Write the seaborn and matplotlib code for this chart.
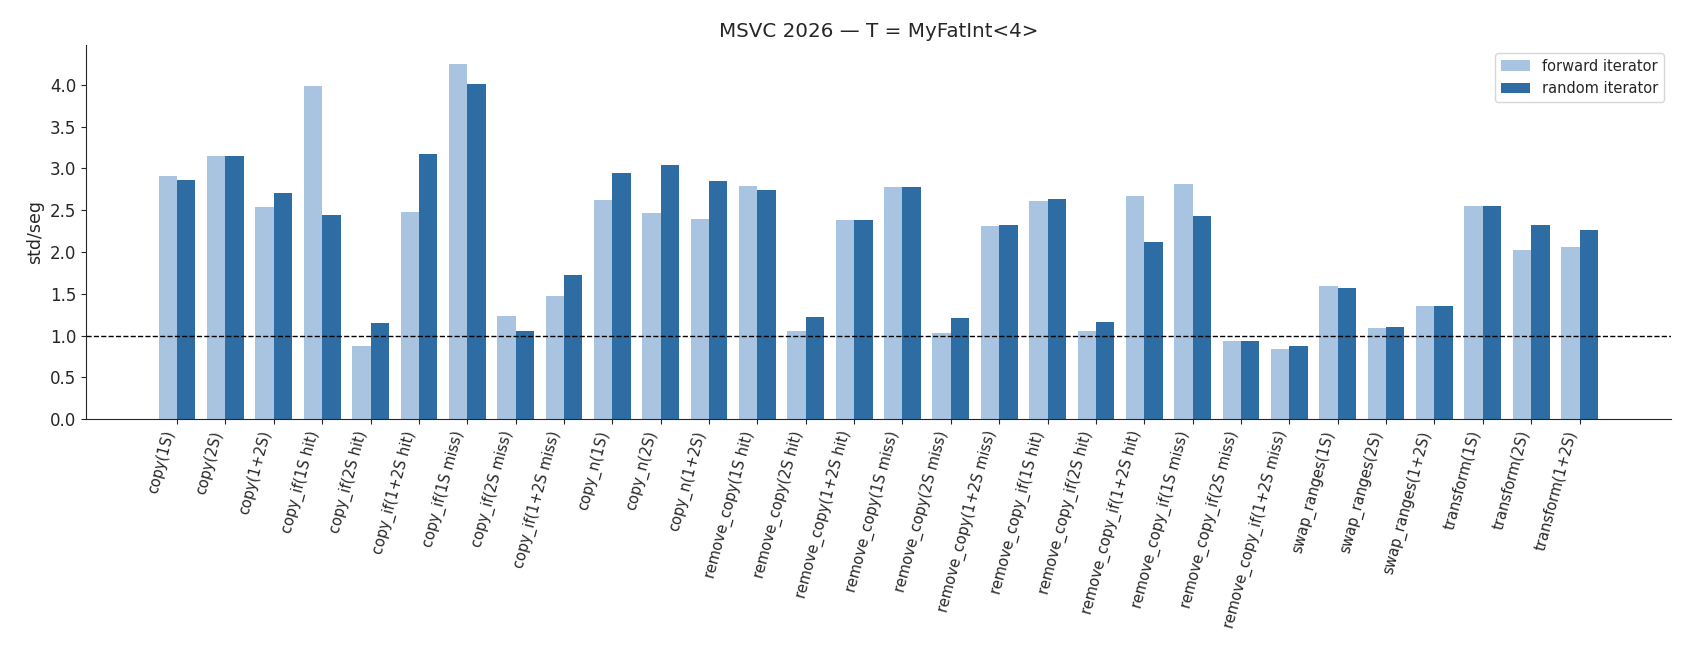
import pandas as pd
import matplotlib
matplotlib.use("Agg")
import matplotlib.pyplot as plt
import seaborn as sns

# Benchmark names (x categories)
benchmarks = [
    "copy(1S)", "copy(2S)", "copy(1+2S)",
    "copy_if(1S hit)", "copy_if(2S hit)", "copy_if(1+2S hit)",
    "copy_if(1S miss)", "copy_if(2S miss)", "copy_if(1+2S miss)",
    "copy_n(1S)", "copy_n(2S)", "copy_n(1+2S)",
    "remove_copy(1S hit)", "remove_copy(2S hit)", "remove_copy(1+2S hit)",
    "remove_copy(1S miss)", "remove_copy(2S miss)", "remove_copy(1+2S miss)",
    "remove_copy_if(1S hit)", "remove_copy_if(2S hit)", "remove_copy_if(1+2S hit)",
    "remove_copy_if(1S miss)", "remove_copy_if(2S miss)", "remove_copy_if(1+2S miss)",
    "swap_ranges(1S)", "swap_ranges(2S)", "swap_ranges(1+2S)",
    "transform(1S)", "transform(2S)", "transform(1+2S)",
]

# std/seg ratio
forward_iter = [
    2.91, 3.15, 2.54,
    3.98, 0.88, 2.48,
    4.25, 1.23, 1.48,
    2.62, 2.47, 2.39,
    2.79, 1.05, 2.38,
    2.78, 1.03, 2.31,
    2.61, 1.06, 2.67,
    2.81, 0.94, 0.84,
    1.59, 1.09, 1.35,
    2.55, 2.02, 2.06,
]
random_iter = [
    2.86, 3.15, 2.71,
    2.44, 1.15, 3.17,
    4.01, 1.06, 1.72,
    2.95, 3.04, 2.85,
    2.74, 1.22, 2.38,
    2.78, 1.21, 2.32,
    2.63, 1.16, 2.12,
    2.43, 0.93, 0.88,
    1.57, 1.10, 1.36,
    2.55, 2.32, 2.26,
]

series_names = ["forward iterator", "random iterator"]
colors = ["#a9c4e0", "#2e6ca4"]

df = pd.DataFrame({
    "benchmark": benchmarks * 2,
    "ratio": forward_iter + random_iter,
    "iterator": [series_names[0]] * len(benchmarks) + [series_names[1]] * len(benchmarks),
})

sns.set_style("ticks")
plt.rcParams["font.family"] = ["DejaVu Sans"]

fig, ax = plt.subplots(figsize=(16.9, 6.5), dpi=100)
sns.barplot(data=df, x="benchmark", y="ratio", hue="iterator",
            palette=colors, width=0.76, saturation=1, linewidth=0, ax=ax)

ax.axhline(1.0, color="black", linestyle="--", linewidth=1)
ax.set_xlim(-1.88, len(benchmarks) - 1 + 1.9)
ax.set_ylim(0, 4.47)
ax.set_title("MSVC 2026 — T = MyFatInt<4>", fontsize=14.3)
ax.set_xlabel("")
ax.set_ylabel("std/seg", fontsize=12.5)
ax.tick_params(axis="y", labelsize=12)
plt.setp(ax.get_xticklabels(), rotation=75, ha="right", fontsize=10.5)
ax.legend(title=None, loc="upper right", fontsize=10.5)
sns.despine(ax=ax)

fig.subplots_adjust(left=0.051, right=0.989, top=0.93, bottom=0.355)
fig.savefig("out.png", dpi=100)
